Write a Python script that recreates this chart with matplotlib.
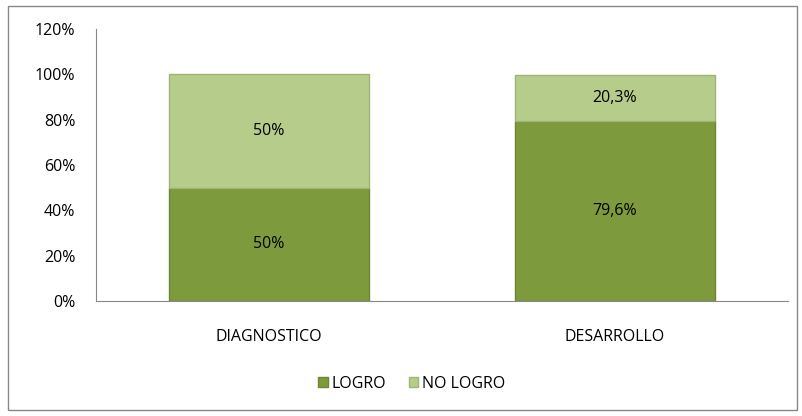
import numpy as np
import matplotlib.pyplot as plt
from matplotlib.patches import Rectangle

plt.rcParams['font.family'] = ['Open Sans', 'DejaVu Sans']

categories = ['DIAGNOSTICO', 'DESARROLLO']
logro = [50, 79.6]
no_logro = [50, 20.3]
logro_labels = ['50%', '79,6%']
no_logro_labels = ['50%', '20,3%']

fs = 11.5
fig = plt.figure(figsize=(8.03, 4.16), dpi=100)
ax = fig.add_axes([96 / 803, 1 - 301 / 416, 692 / 803, 272 / 416])

x = np.arange(len(categories))
w = 0.578
c1 = '#7d9b3c'
c2 = '#b5cc8a'
b1 = ax.bar(x, logro, w, color=c1, edgecolor='#6d8636', linewidth=1, label='LOGRO')
b2 = ax.bar(x, no_logro, w, bottom=logro, color=c2, edgecolor='#9fb476', linewidth=1, label='NO LOGRO')

for i in range(len(x)):
    ax.text(x[i], logro[i] / 2, logro_labels[i], ha='center', va='center', fontsize=fs)
    ax.text(x[i], logro[i] + no_logro[i] / 2, no_logro_labels[i], ha='center', va='center', fontsize=fs)

ax.set_xlim(-0.5, 1.5)
ax.set_ylim(0, 120)
ax.set_yticks(range(0, 121, 20))
ax.set_yticklabels([f'{v}%' for v in range(0, 121, 20)], fontsize=fs)
ax.set_xticks(x)
ax.set_xticklabels(categories, fontsize=fs)
ax.tick_params(axis='y', length=0, pad=15)
ax.tick_params(axis='x', length=0, pad=20)
for s in ['top', 'right']:
    ax.spines[s].set_visible(False)
ax.spines['left'].set_color('#888888')
ax.spines['bottom'].set_color('#888888')

fig.legend(handles=[b1, b2], loc='center', bbox_to_anchor=(412 / 803, 1 - 384 / 416), ncol=2,
           frameon=False, fontsize=fs, handlelength=0.6, handleheight=0.6, handletextpad=0.25,
           columnspacing=1.4)

fig.patches.append(Rectangle((8 / 803, 6 / 416), 789 / 803, 404 / 416, transform=fig.transFigure,
                             fill=False, edgecolor='#888888', linewidth=1))

fig.savefig('out.png', dpi=100)
